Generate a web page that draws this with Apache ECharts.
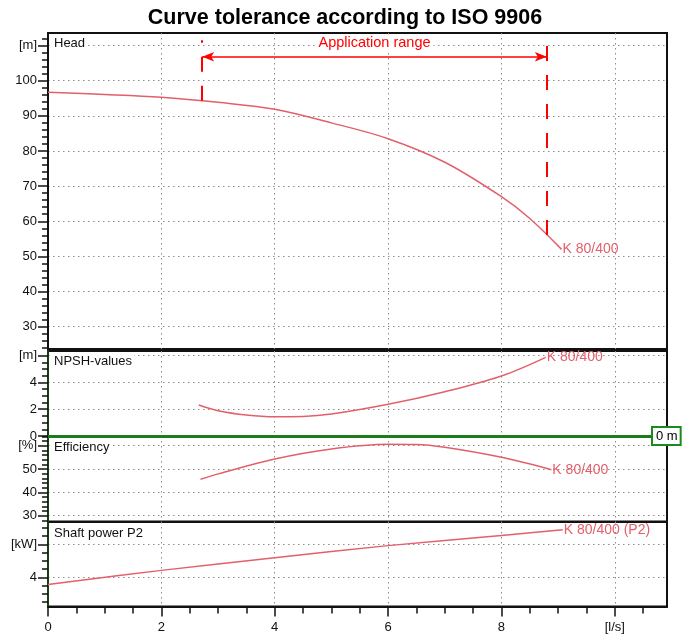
<!DOCTYPE html>
<html>
<head>
<meta charset="utf-8">
<title>Curve tolerance according to ISO 9906</title>
<script src="https://cdn.jsdelivr.net/npm/echarts@6/dist/echarts.min.js"></script>
<style>
    html, body { margin: 0; padding: 0; background: #fff; }
    #chart { width: 690px; height: 638px; }
</style>
</head>
<body>
<div id="chart"></div>
<script>
// 流量 [l/s] 和各条曲线的读数
const headFlow = [0, 1, 2, 3, 4, 5, 6, 7, 8, 8.5, 9.06];
const headValues = [96.7, 96.1, 95.3, 93.85, 91.9, 88.0, 83.5, 76.8, 67.0, 60.8, 52.0];

const npshFlow = [2.66, 3, 3.5, 4, 4.5, 5, 6, 7, 8, 8.78];
const npshValues = [2.31, 1.89, 1.57, 1.44, 1.46, 1.64, 2.37, 3.31, 4.48, 5.87];

const effFlow = [2.69, 3, 4, 5, 6, 6.5, 7, 8, 8.88];
const effValues = [45.6, 47.9, 54.3, 58.6, 60.6, 60.5, 59.3, 55.0, 49.7];

const powerFlow = [0, 2, 4, 6, 8, 9.08];
const powerValues = [3.78, 4.21, 4.59, 4.96, 5.27, 5.44];

// 应用范围 (Application range)
const appRange = [2.72, 8.8];

// 刻度标签
const xTicks = [0, 2, 4, 6, 8, 10];
const xTickLabels = ['0', '2', '4', '6', '8', '[l/s]'];
const headTicks = [30, 40, 50, 60, 70, 80, 90, 100, 110];
const headTickLabels = ['30', '40', '50', '60', '70', '80', '90', '100', '[m]'];
const npshTicks = [0, 2, 4, 6];
const npshTickLabels = ['0', '2', '4', '[m]'];
const effTicks = [30, 40, 50, 60];
const effTickLabels = ['30', '40', '50', '[%]'];
const powerTicks = [4, 5];
const powerTickLabels = ['4', '[kW]'];

const CURVE = '#e2606c';
const RED = '#ff0000';
const GREEN = '#1c7c1c';
const X_MAX = 10.92;
const FONT = 'Liberation Sans, Arial, sans-serif';

function pairs(xs, ys) {
    return xs.map((x, i) => [x, ys[i]]);
}

function range(from, to, step) {
    const out = [];
    for (let v = from; v <= to + 1e-9; v += step) out.push(Math.round(v * 1000) / 1000);
    return out;
}

// 在曲线上线性插值 (用于标注线的端点)
function valueAt(xs, ys, x) {
    for (let i = 1; i < xs.length; i++) {
        if (x <= xs[i]) {
            const t = (x - xs[i - 1]) / (xs[i] - xs[i - 1]);
            return ys[i - 1] + t * (ys[i] - ys[i - 1]);
        }
    }
    return ys[ys.length - 1];
}

function labelFor(ticks, labels) {
    return function (v) {
        const i = ticks.findIndex(t => Math.abs(t - v) < 1e-6);
        return i < 0 ? '' : labels[i];
    };
}

const dotted = {color: '#8c8c8c', width: 1, type: [1.5, 3.5]};

// 四个面板
const grids = [
    {left: 48, top: 33, width: 619, height: 316},
    {left: 48, top: 351, width: 619, height: 85},
    {left: 48, top: 436, width: 619, height: 85.5},
    {left: 48, top: 522, width: 619, height: 84.5}
].map(g => Object.assign(g, {show: true, borderColor: '#111', borderWidth: 2, containLabel: false}));

const xAxes = [0, 1, 2, 3].map(i => ({
    gridIndex: i,
    type: 'value',
    position: 'bottom',
    min: 0,
    max: X_MAX,
    axisLine: {show: i === 3, lineStyle: {color: '#111', width: 2}},
    axisTick: {show: i === 3, customValues: xTicks, length: 10, lineStyle: {color: '#111', width: 1.5}},
    axisLabel: {
        show: i === 3, customValues: xTicks, formatter: labelFor(xTicks, xTickLabels),
        margin: 14, fontSize: 13, color: '#111'
    },
    splitLine: {show: true, lineStyle: dotted}
}));
// x 轴小刻度
xAxes.push({
    gridIndex: 3, type: 'value', position: 'bottom', min: 0, max: X_MAX,
    axisLine: {show: false},
    axisTick: {customValues: range(0, 10.5, 0.5), length: 7, lineStyle: {color: '#111', width: 1.5}},
    axisLabel: {show: false},
    splitLine: {show: false}
});

function yPair(gridIndex, min, max, ticks, labels, minorStep, lineColor) {
    const first = Math.ceil(min / minorStep - 1e-9) * minorStep;
    return [{
        gridIndex: gridIndex, type: 'value', position: 'left', min: min, max: max,
        axisLine: {show: true, lineStyle: {color: lineColor, width: 2}},
        axisTick: {customValues: ticks, length: 10, lineStyle: {color: '#111', width: 1.5}},
        axisLabel: {
            customValues: ticks, formatter: labelFor(ticks, labels),
            margin: 11, fontSize: 13, color: '#111'
        },
        splitLine: {show: true, lineStyle: dotted}
    }, {
        gridIndex: gridIndex, type: 'value', position: 'left', offset: 0, min: min, max: max,
        axisLine: {show: false},
        axisTick: {customValues: range(first, max, minorStep), length: 6, lineStyle: {color: '#111', width: 1.5}},
        axisLabel: {show: false},
        splitLine: {show: false}
    }];
}

const yAxes = [].concat(
    yPair(0, 23.65, 113.57, headTicks, headTickLabels, 2, '#111'),
    yPair(1, 0, 6.35, npshTicks, npshTickLabels, 0.5, '#173d17'),
    yPair(2, 27.5, 64.14, effTicks, effTickLabels, 2, '#173d17'),
    yPair(3, 3.115, 5.676, powerTicks, powerTickLabels, 0.25, '#173d17')
);

function curve(name, xi, yi, data, label) {
    return {
        name: name,
        type: 'line',
        xAxisIndex: xi,
        yAxisIndex: yi,
        data: data,
        smooth: 0.35,
        showSymbol: false,
        silent: true,
        lineStyle: {color: CURVE, width: 1.5},
        endLabel: {show: true, formatter: label, color: CURVE, fontSize: 14, distance: 1}
    };
}

const RANGE_TOP = 111.5;
const ARROW_Y = 106.8;

const headSeries = curve('Head', 0, 0, pairs(headFlow, headValues), 'K 80/400');
headSeries.markLine = {
    silent: true,
    symbol: ['none', 'none'],
    animation: false,
    label: {show: false},
    lineStyle: {color: RED, width: 2, type: [15, 14]},
    data: [
        [{coord: [appRange[0], valueAt(headFlow, headValues, appRange[0])]}, {coord: [appRange[0], RANGE_TOP]}],
        [{coord: [appRange[1], valueAt(headFlow, headValues, appRange[1])]}, {coord: [appRange[1], RANGE_TOP]}],
        [
            {
                coord: [appRange[0], ARROW_Y], symbol: 'arrow', symbolSize: [7, 12],
                lineStyle: {type: 'solid', width: 1.5},
                label: {
                    show: true, position: 'middle', formatter: 'Application range',
                    color: RED, fontSize: 14.5, backgroundColor: '#fff', padding: [1, 3]
                }
            },
            {coord: [appRange[1], ARROW_Y], symbol: 'arrow', symbolSize: [7, 12]}
        ]
    ]
};

const npshSeries = curve('NPSH', 1, 2, pairs(npshFlow, npshValues), 'K 80/400');
npshSeries.markLine = {
    silent: true,
    symbol: ['none', 'none'],
    animation: false,
    lineStyle: {color: GREEN, width: 3, type: 'solid'},
    label: {
        show: true, position: 'end', formatter: '0 m', distance: -14,
        color: '#000', fontSize: 13, backgroundColor: '#fff',
        borderColor: '#1d8a1d', borderWidth: 2, padding: [2, 2, 1, 3]
    },
    data: [{yAxis: 0}]
};

const option = {
    animation: false,
    textStyle: {fontFamily: FONT},
    title: {
        text: 'Curve tolerance according to ISO 9906',
        left: 'center',
        top: 2,
        textStyle: {fontSize: 21.5, fontWeight: 'bold', color: '#000', fontFamily: FONT}
    },
    grid: grids,
    xAxis: xAxes,
    yAxis: yAxes,
    graphic: [
        ['Head', 37],
        ['NPSH-values', 355],
        ['Efficiency', 441],
        ['Shaft power P2', 527]
    ].map(t => ({
        type: 'text', left: 52, top: t[1], z: 10,
        style: {
            text: t[0], fontSize: 13, fill: '#111', backgroundColor: '#fff', padding: [0, 2],
            fontFamily: FONT
        }
    })),
    series: [
        headSeries,
        npshSeries,
        curve('Efficiency', 2, 4, pairs(effFlow, effValues), 'K 80/400'),
        curve('Shaft power P2', 3, 6, pairs(powerFlow, powerValues), 'K 80/400 (P2)')
    ]
};

const chart = echarts.init(document.getElementById('chart'));
chart.setOption(option);
</script>
</body>
</html>
